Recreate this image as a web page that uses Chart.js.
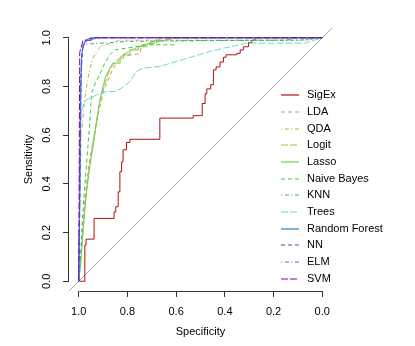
<!DOCTYPE html>
<html>
<head>
<meta charset="utf-8">
<script src="https://cdn.jsdelivr.net/npm/chart.js@4/dist/chart.umd.min.js"></script>
<style>
html,body{margin:0;padding:0;background:#fff;}
#wrap{width:415px;height:346px;}
</style>
</head>
<body>
<div id="wrap"><canvas id="c" width="415" height="346"></canvas></div>
<script>
// ---- data: specificity (x) / sensitivity (y) per model ----
const models = ["SigEx","LDA","QDA","Logit","Lasso","Naive Bayes","KNN","Trees","Random Forest","NN","ELM","SVM"];
const axisTicks = [0, 0.2, 0.4, 0.6, 0.8, 1.0];

const sigexSpec = [1,0.975,0.975,0.97,0.97,0.937,0.937,0.855,0.855,0.848,0.848,0.838,0.838,0.831,0.831,0.824,0.824,0.818,0.818,0.804,0.804,0.79,0.79,0.667,0.667,0.53,0.53,0.493,0.493,0.481,0.481,0.474,0.474,0.458,0.458,0.447,0.447,0.436,0.436,0.42,0.42,0.406,0.406,0.395,0.395,0.351,0.351,0.337,0.337,0.324,0.324,0.303,0.303,0.289,0.289,0.276,0.276,0];
const sigexSens = [0,0,0.148,0.148,0.173,0.173,0.258,0.258,0.285,0.285,0.306,0.306,0.367,0.367,0.45,0.45,0.49,0.49,0.54,0.54,0.57,0.57,0.583,0.583,0.67,0.67,0.68,0.68,0.73,0.73,0.77,0.77,0.79,0.79,0.807,0.807,0.868,0.868,0.88,0.88,0.90,0.90,0.92,0.92,0.93,0.93,0.936,0.936,0.95,0.95,0.963,0.963,0.98,0.98,0.99,0.99,1,1];

const ldaSpec = [1,0.992,0.986,0.978,0.968,0.955,0.94,0.925,0.915,0.905,0.895,0.882,0.87,0.855,0.84,0.825,0.8,0.75,0.74,0.7,0.667,0.62,0.6,0];
const ldaSens = [0,0.1,0.2,0.3,0.4,0.5,0.58,0.66,0.71,0.75,0.79,0.82,0.85,0.88,0.9,0.925,0.927,0.935,0.97,0.975,0.985,0.996,1,1];

const qdaSpec = [1,0.995,0.99,0.975,0.965,0.955,0.94,0.925,0.91,0.88,0.83,0.07,0];
const qdaSens = [0,0.3,0.6,0.75,0.82,0.87,0.92,0.945,0.965,0.975,0.99,0.99,1];

const logitSpec = [1,0.992,0.985,0.977,0.968,0.958,0.947,0.937,0.927,0.917,0.905,0.893,0.88,0.865,0.85,0.83,0.81,0.78,0.75,0.72,0.69,0.65,0.6,0];
const logitSens = [0,0.08,0.17,0.27,0.37,0.45,0.53,0.6,0.66,0.72,0.77,0.81,0.85,0.88,0.9,0.92,0.935,0.95,0.965,0.975,0.985,0.99,1,1];

const lassoSpec = [1,0.993,0.986,0.979,0.97,0.962,0.95,0.94,0.93,0.92,0.91,0.9,0.89,0.875,0.86,0.83,0.83,0.816,0.816,0.79,0.79,0.755,0.755,0.72,0.72,0.69,0.69,0.667,0.667,0];
const lassoSens = [0,0.06,0.155,0.25,0.35,0.42,0.5,0.56,0.63,0.7,0.76,0.8,0.84,0.87,0.896,0.896,0.916,0.916,0.93,0.93,0.95,0.95,0.963,0.963,0.975,0.975,0.99,0.99,1,1];

const nbSpec = [1,0.99,0.985,0.98,0.971,0.955,0.947,0.93,0.914,0.893,0.872,0.852,0.804,0.72,0.61,0.6,0.15,0.1,0];
const nbSens = [0,0.15,0.25,0.333,0.444,0.649,0.772,0.82,0.848,0.896,0.93,0.95,0.957,0.971,0.971,0.988,0.99,1,1];

const knnSpec = [1,0.995,0.99,0.985,0.984,0.95,0.8,0.5,0.09,0];
const knnSens = [0,0.5,0.85,0.94,0.971,0.975,0.985,0.988,0.99,1];

const treesSpec = [1,0.996,0.993,0.99,0.98,0.97,0.927,0.886,0.852,0.824,0.79,0.763,0.735,0.667,0.598,0.53,0.46,0.406,0.337,0.305,0.07,0];
const treesSens = [0,0.3,0.6,0.7,0.724,0.744,0.765,0.779,0.779,0.793,0.82,0.861,0.875,0.882,0.903,0.923,0.944,0.957,0.971,0.978,0.978,1];

const rfSpec = [1,0.996,0.992,0.988,0.98,0.97,0.95,0];
const rfSens = [0,0.35,0.8,0.93,0.975,0.99,1,1];

const nnSpec = [1,0.995,0.99,0.985,0.975,0.96,0.93,0];
const nnSens = [0,0.4,0.85,0.95,0.98,0.995,1,1];

const elmSpec = [1,0.997,0.993,0.99,0.983,0.97,0.94,0.9,0];
const elmSens = [0,0.3,0.75,0.9,0.96,0.985,0.995,1,1];

const svmSpec = [1,0.998,0.996,0.982,0.942,0.935,0];
const svmSens = [0,0.5,0.94,0.99,0.99,1,1];

const seriesSpec = [sigexSpec, ldaSpec, qdaSpec, logitSpec, lassoSpec, nbSpec, knnSpec, treesSpec, rfSpec, nnSpec, elmSpec, svmSpec];
const seriesSens = [sigexSens, ldaSens, qdaSens, logitSens, lassoSens, nbSens, knnSens, treesSens, rfSens, nnSens, elmSens, svmSens];

// ---- styles ----
const colors = ["#B01010","#E0905A","#C8B030","#A0C040","#70D050","#30D040","#30B080","#70D8D8","#2080C8","#4050C0","#8060D8","#8000C0"];
const dashSolid = [], dashDashed = [4,3], dashDotDash = [1,3,4,2], dashLong = [7,2];
const dashes = [dashSolid, dashDashed, dashDotDash, dashLong, dashSolid, dashDashed, dashDotDash, dashLong, dashSolid, dashDashed, dashDotDash, dashLong];

const FONT = "'Liberation Sans', Arial, Helvetica, sans-serif";

const datasets = models.map((m, i) => ({
  label: m,
  data: seriesSpec[i].map((s, k) => ({x: s, y: seriesSens[i][k]})),
  borderColor: colors[i],
  backgroundColor: colors[i],
  borderWidth: 1,
  borderDash: dashes[i],
  borderCapStyle: 'butt',
  pointRadius: 0,
  pointHoverRadius: 0,
  showLine: true,
  fill: false,
  tension: 0,
  order: models.length - 1 - i
}));

const rAxesPlugin = {
  id: 'rAxes',
  beforeDatasetsDraw(chart) {
    const {ctx, chartArea, scales: {x, y}} = chart;
    ctx.save();
    ctx.beginPath();
    ctx.rect(chartArea.left, chartArea.top, chartArea.right - chartArea.left, chartArea.bottom - chartArea.top);
    ctx.clip();
    ctx.strokeStyle = '#AAAAAA';
    ctx.lineWidth = 1;
    ctx.beginPath();
    ctx.moveTo(x.getPixelForValue(x.max), y.getPixelForValue(1 - x.max));
    ctx.lineTo(x.getPixelForValue(x.min), y.getPixelForValue(1 - x.min));
    ctx.stroke();
    ctx.restore();
  },
  afterDraw(chart) {
    const {ctx, chartArea, scales: {x, y}} = chart;
    ctx.save();
    ctx.strokeStyle = '#333333';
    ctx.lineWidth = 1;
    ctx.setLineDash([]);
    const yb = Math.round(chartArea.bottom) + 0.5;
    ctx.beginPath();
    ctx.moveTo(Math.round(x.getPixelForValue(axisTicks[axisTicks.length-1])) + 0.5, yb);
    ctx.lineTo(Math.round(x.getPixelForValue(axisTicks[0])) + 0.5, yb);
    ctx.stroke();
    const xl = Math.round(chartArea.left) - 0.5;
    ctx.beginPath();
    ctx.moveTo(xl, Math.round(y.getPixelForValue(axisTicks[0])) + 0.5);
    ctx.lineTo(xl, Math.round(y.getPixelForValue(axisTicks[axisTicks.length-1])) + 0.5);
    ctx.stroke();
    ctx.restore();

    // legend (R style, inside plot at bottom right)
    const n = models.length;
    const rowH = 16.67;
    for (let i = 0; i < n; i++) {
      const ly = Math.round(chartArea.bottom - 12.3 - (n - 1 - i) * rowH);
      const lx0 = Math.round(chartArea.right - 51), lx1 = Math.round(chartArea.right - 33);
      ctx.save();
      ctx.strokeStyle = colors[i];
      ctx.lineWidth = 1.2;
      ctx.lineCap = 'butt';
      ctx.setLineDash(dashes[i]);
      ctx.beginPath();
      ctx.moveTo(lx0, ly);
      ctx.lineTo(lx1, ly);
      ctx.stroke();
      ctx.restore();
      ctx.save();
      ctx.font = '11px ' + FONT;
      ctx.textBaseline = 'middle';
      ctx.textAlign = 'left';
      ctx.fillStyle = '#000000';
      ctx.fillText(models[i], chartArea.right - 25, ly);
      ctx.restore();
    }
  }
};

const tickCb = (v) => Number(v).toFixed(1);
const setTicks = (scale) => { scale.ticks = axisTicks.map(v => ({value: v})); };

new Chart(document.getElementById('c'), {
  type: 'scatter',
  data: { datasets },
  options: {
    responsive: false,
    animation: false,
    devicePixelRatio: 1,
    layout: { padding: { top: 28, right: 83, left: 0, bottom: 0 } },
    plugins: { legend: { display: false }, tooltip: { enabled: false } },
    scales: {
      x: {
        type: 'linear',
        reverse: true,
        min: -0.04, max: 1.04,
        afterBuildTicks: setTicks,
        afterFit: (s) => { s.height = 55; },
        border: { display: false },
        grid: { display: true, drawOnChartArea: false, drawTicks: true, tickLength: 6, color: '#333333', lineWidth: 1 },
        ticks: { callback: tickCb, color: '#000', font: { family: FONT, size: 11 }, padding: 8, maxRotation: 0, minRotation: 0, autoSkip: false },
        title: { display: true, text: 'Specificity', color: '#000', font: { family: FONT, size: 11 }, padding: { top: 0, bottom: 7 } }
      },
      y: {
        type: 'linear',
        min: -0.04, max: 1.04,
        afterBuildTicks: setTicks,
        afterFit: (s) => { s.width = 69; },
        border: { display: false },
        grid: { display: true, drawOnChartArea: false, drawTicks: true, tickLength: 6, color: '#333333', lineWidth: 1 },
        ticks: { callback: tickCb, color: '#000', font: { family: FONT, size: 11 }, padding: 8, minRotation: 90, maxRotation: 90, crossAlign: 'center', autoSkip: false },
        title: { display: true, text: 'Sensitivity', color: '#000', font: { family: FONT, size: 11 }, padding: { top: 22, bottom: 0 } }
      }
    }
  },
  plugins: [rAxesPlugin]
});
</script>
</body>
</html>
